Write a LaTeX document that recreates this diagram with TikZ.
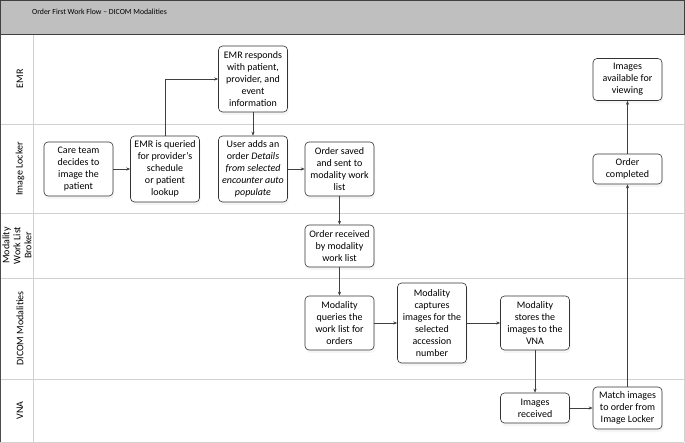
\documentclass[tikz,border=0pt]{standalone}
\usepackage{fontspec}
\setmainfont{Carlito}
\usetikzlibrary{arrows.meta,shadows}
\begin{document}
\begin{tikzpicture}[x=1pt,y=-1pt,
  box/.style={draw=black!80, line width=0.6pt, rounded corners=4pt, fill=white, align=center,
    font=\fontsize{10}{12}\selectfont, minimum width=69pt, inner sep=2pt,
    drop shadow={opacity=0.08, shadow xshift=1pt, shadow yshift=-3pt}},
  flow/.style={draw=black!75, line width=0.6pt, -{Stealth[length=4pt,width=3.2pt]}},
  lane/.style={draw=black!18, line width=0.7pt},
  lanelabel/.style={rotate=90, font=\fontsize{10}{11}\selectfont, align=center}]

\useasboundingbox (0,0) rectangle (685,443);
\fill[white] (0,0) rectangle (685,443);

% swimlanes
\draw[lane] (0,124) -- (684,124);
\draw[lane] (0,213) -- (684,213);
\draw[lane] (0,278) -- (684,278);
\draw[lane] (0,379) -- (684,379);
\draw[lane] (0,442) -- (684,442);
\draw[lane] (33,34) -- (33,442);
\draw[lane] (684,34) -- (684,442);
\draw[black!70, line width=0.8pt] (0.4,34) -- (0.4,442);

% header
\draw[fill=black!25, draw=black!75, line width=0.8pt] (0.4,0.4) rectangle (684.6,34);
\node[anchor=west, font=\fontsize{7.8}{9}\selectfont, inner sep=0pt] (title) at (32,12) {Order First Work Flow – DICOM Modalities};

% lane labels
\node[lanelabel] (lEMR) at (20,79) {EMR};
\node[lanelabel] (lIL) at (20,169) {Image Locker};
\node[lanelabel] (lMWL) at (17,245.5) {Modality\\Work List\\Broker};
\node[lanelabel] (lDICOM) at (20,328.5) {DICOM Modalities};
\node[lanelabel] (lVNA) at (20,410.5) {VNA};

% nodes
\node[box, minimum height=54pt] (care) at (78.5,169) {Care team\\decides to\\image the\\patient};
\node[box, minimum height=66pt] (query) at (165,169) {EMR is queried\\for provider's\\schedule\\or patient\\lookup};
\node[box, minimum height=66pt] (resp) at (253,79) {EMR responds\\with patient,\\provider, and\\event\\information};
\node[box, minimum height=66pt] (user) at (253,169) {User adds an\\order \textit{Details}\\\textit{from selected}\\\textit{encounter auto}\\\textit{populate}};
\node[box, minimum height=54pt] (saved) at (339.5,169) {Order saved\\and sent to\\modality work\\list};
\node[box, minimum height=42pt] (recv) at (339.5,246) {Order received\\by modality\\work list};
\node[box, minimum height=54pt] (mq) at (339.5,323) {Modality\\queries the\\work list for\\orders};
\node[box, minimum height=80pt] (cap) at (432,323) {Modality\\captures\\images for the\\selected\\accession\\number};
\node[box, minimum height=54pt] (store) at (535,323) {Modality\\stores the\\images to the\\VNA};
\node[box, minimum height=30pt] (imgrecv) at (535,408) {Images\\received};
\node[box, minimum height=42pt] (match) at (627.5,408) {Match images\\to order from\\Image Locker};
\node[box, minimum height=30pt] (done) at (627.5,169) {Order\\completed};
\node[box, minimum height=42pt] (avail) at (627.5,79.5) {Images\\available for\\viewing};

% connectors
\draw[flow] (care) -- (query);
\draw[flow] (query.north) |- (resp.west);
\draw[flow] (resp) -- (user);
\draw[flow] (user) -- (saved);
\draw[flow] (saved) -- (recv);
\draw[flow] (recv) -- (mq);
\draw[flow] (mq) -- (cap);
\draw[flow] (cap) -- (store);
\draw[flow] (store) -- (imgrecv);
\draw[flow] (imgrecv) -- (match);
\draw[flow] (match) -- (done);
\draw[flow] (done) -- (avail);
\end{tikzpicture}
\end{document}
